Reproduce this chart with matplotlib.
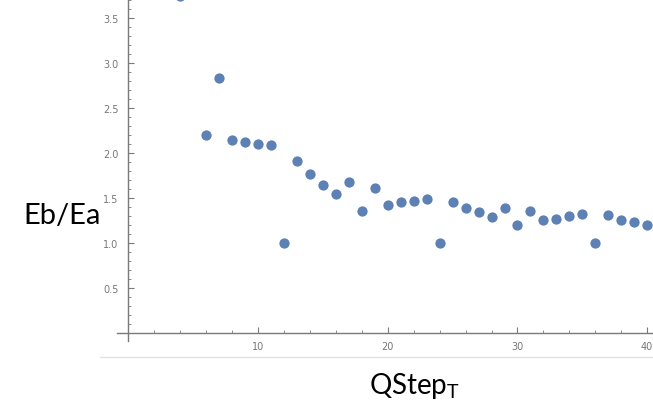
import numpy as np
import matplotlib.pyplot as plt
from matplotlib.lines import Line2D
from matplotlib.ticker import MultipleLocator

# 数据
qstep = [4, 6, 7, 8, 9, 10, 11, 12, 13, 14, 15, 16, 17, 18, 19, 20,
         21, 22, 23, 24, 25, 26, 27, 28, 29, 30, 31, 32, 33, 34, 35,
         36, 37, 38, 39, 40]
ratio = [3.74, 2.20, 2.83, 2.14, 2.12, 2.10, 2.09, 1.00, 1.91, 1.77, 1.64,
         1.54, 1.68, 1.35, 1.61, 1.42, 1.45, 1.47, 1.49, 1.00, 1.46, 1.39,
         1.34, 1.29, 1.39, 1.20, 1.36, 1.26, 1.27, 1.30, 1.32, 1.00, 1.31,
         1.26, 1.23, 1.20]
xticks = [10, 20, 30, 40]
yticks = [0.5, 1.0, 1.5, 2.0, 2.5, 3.0, 3.5]

W, H = 653, 410
fig = plt.figure(figsize=(W / 100, H / 100), dpi=100)

# 坐标轴位置（像素）
left, right, top, bottom = 117, 653, 0, 342
ax = fig.add_axes([left / W, 1 - bottom / H, (right - left) / W, (bottom - top) / H])

ax.plot(qstep, ratio, 'o', color='#5E81B5', markersize=7.4, markeredgewidth=0)

ax.set_xlim(-0.88, 40.45)
ax.set_ylim(-0.089, 3.711)

for s in ['top', 'right']:
    ax.spines[s].set_visible(False)
ax.spines['left'].set_position(('data', 0))
ax.spines['bottom'].set_position(('data', 0))
for s in ['left', 'bottom']:
    ax.spines[s].set_color('#7a7a7a')
    ax.spines[s].set_linewidth(1.0)

ax.set_xticks(xticks)
ax.set_yticks(yticks)
ax.set_yticklabels([f'{v:.1f}' for v in yticks])
ax.xaxis.set_minor_locator(MultipleLocator(2))
ax.yaxis.set_minor_locator(MultipleLocator(0.1))
ax.tick_params(which='major', direction='in', length=4, width=0.8,
               color='#7a7a7a', labelcolor='#777777', labelsize=7)
ax.tick_params(which='minor', direction='in', length=2.5, width=0.6,
               color='#7a7a7a')
ax.tick_params(axis='x', which='major', pad=6)
ax.tick_params(axis='y', which='major', pad=7)

# 截图下方的浅灰线
fig.add_artist(Line2D([100 / W, 1], [1 - 358 / H, 1 - 358 / H],
                      color='#e2e2e2', linewidth=1.0))

fig.text(62 / W, 1 - 216 / H, 'Eb/Ea', fontsize=21, family='Lato',
         ha='center', va='center')
fig.text(414 / W, 1 - 386 / H, r'QStep$_\mathregular{T}$', fontsize=20,
         family='Lato', ha='center', va='center')

fig.savefig('out.png', dpi=100)
